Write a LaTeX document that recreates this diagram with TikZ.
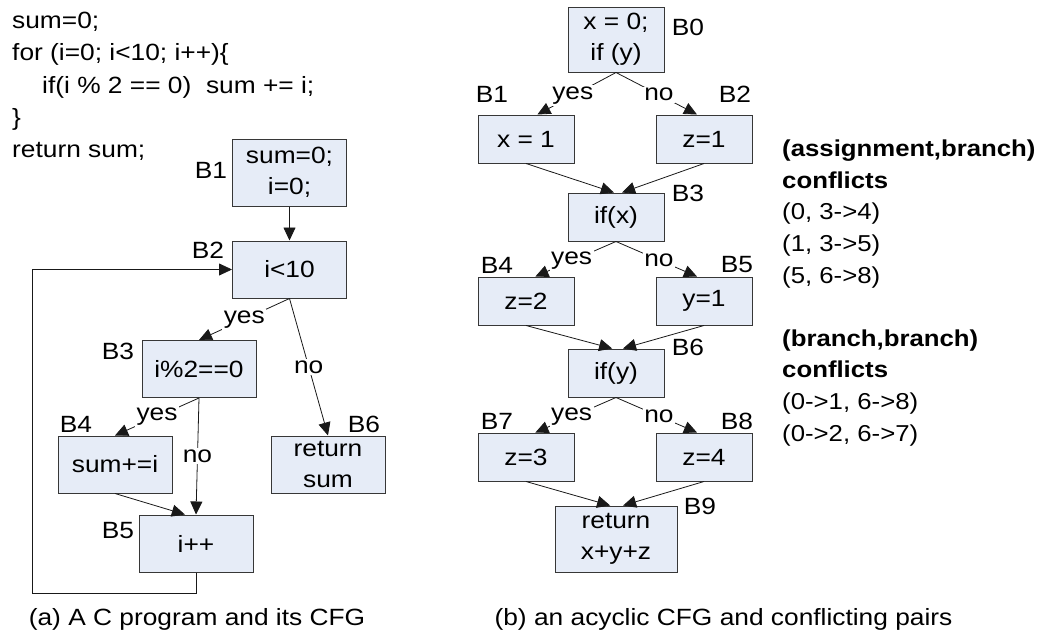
\documentclass[tikz,border=0pt]{standalone}
\usepackage{fontspec}
\setmainfont{Liberation Sans}[FakeStretch=1.12, BoldFeatures={FakeStretch=1.12}]
\usetikzlibrary{arrows.meta}
\definecolor{blkfill}{RGB}{230,236,247}
\definecolor{blkdraw}{RGB}{55,55,55}
\definecolor{edgecol}{RGB}{25,25,25}

\begin{document}
\begin{tikzpicture}[x=1pt,y=-1pt,
  every node/.style={font=\fontsize{23.5}{31}\selectfont, inner sep=0pt},
  blk/.style={draw=blkdraw, fill=blkfill, line width=1pt, align=center},
  lblk/.style={blk, minimum width=114pt, minimum height=57pt},
  rblk/.style={blk, minimum width=96pt, minimum height=48pt},
  cond/.style={fill=white, inner sep=1.5pt},
  flow/.style={draw=edgecol, line width=0.8pt, -{Triangle[length=13pt,width=12pt]}},
  codeline/.style={anchor=base west},
  listline/.style={anchor=base west, font=\fontsize{23}{30}\selectfont},
  listhead/.style={listline, font=\fontsize{23}{30}\selectfont\bfseries},
]
\fill[white] (0,0) rectangle (1047,637);
\useasboundingbox (0,0) rectangle (1047,637);

% ---------- (a) source program ----------
\node[codeline] (c1) at (12,28)    {sum=0;};
\node[codeline] (c2) at (12,60.5)  {for (i=0; i<10; i++)\{};
\node[codeline] (c3) at (42,93)    {if(i \% 2 == 0)\ \ sum += i;};
\node[codeline] (c4) at (12,125)   {\}};
\node[codeline] (c5) at (12,157)   {return sum;};

% ---------- (a) its CFG ----------
\node[lblk, minimum height=67pt] (LB1) at (289.5,172.5) {sum=0;\\i=0;};
\node[lblk] (LB2) at (289.5,269.5) {i<10};
\node[lblk] (LB3) at (199,369)     {i\%2==0};
\node[lblk] (LB4) at (115,464.5)   {sum+=i};
\node[lblk] (LB5) at (196,543.5)   {i++};
\node[lblk] (LB6) at (328,464.5)   {return\\sum};

\node (tLB1) at (211,170) {B1};
\node (tLB2) at (208,250) {B2};
\node (tLB3) at (118,351) {B3};
\node (tLB4) at (76,424)  {B4};
\node (tLB5) at (118,531) {B5};
\node (tLB6) at (364,424) {B6};

\draw[flow] (LB1.south) -- (LB2.north);
\draw[flow] (LB2.south) -- node[cond] {yes} (LB3.north);
\draw[flow] (LB2.south) -- node[cond] {no} (LB6.north);
\draw[flow] (LB3.south) -- node[cond] {yes} (LB4.north);
\draw[flow] (LB3.south) -- node[cond] {no} (LB5.north);
\draw[flow] (LB4.south) -- (LB5.111);
\coordinate (loopcorner) at (32,593);
\draw[flow] (LB5.south) |- (loopcorner) |- (LB2.west);

\node[anchor=base] (capa) at (197,625) {(a) A C program and its CFG};

% ---------- (b) acyclic CFG ----------
\node[rblk, minimum height=65pt] (RB0) at (616,39.5) {x = 0;\\if (y)};
\node[rblk] (RB1) at (526,139) {x = 1};
\node[rblk] (RB2) at (704,139) {z=1};
\node[rblk] (RB3) at (616,217) {if(x)};
\node[rblk] (RB4) at (526,301) {z=2};
\node[rblk] (RB5) at (704,301) {y=1};
\node[rblk] (RB6) at (616,373) {if(y)};
\node[rblk] (RB7) at (526,457) {z=3};
\node[rblk] (RB8) at (704,457) {z=4};
\node[rblk, minimum width=122pt, minimum height=66pt] (RB9) at (616,539) {return\\x+y+z};

\node (tRB0) at (688,27)  {B0};
\node (tRB1) at (492,94)  {B1};
\node (tRB2) at (735,94)  {B2};
\node (tRB3) at (688,193) {B3};
\node (tRB4) at (497,265) {B4};
\node (tRB5) at (737,265) {B5};
\node (tRB6) at (688,347) {B6};
\node (tRB7) at (497,421) {B7};
\node (tRB8) at (737,421) {B8};
\node (tRB9) at (700,506) {B9};

\draw[flow] (RB0.south) -- node[cond, pos=0.55] {yes} (RB1.65);
\draw[flow] (RB0.south) -- node[cond, pos=0.53] {no} (RB2.106);
\draw[flow] (RB1.south) -- (RB3.95);
\draw[flow] (RB2.south) -- (RB3.76);
\draw[flow] (RB3.south) -- node[cond, pos=0.55] {yes} (RB4.69);
\draw[flow] (RB3.south) -- node[cond, pos=0.53] {no} (RB5.106);
\draw[flow] (RB4.south) -- (RB6.99);
\draw[flow] (RB5.south) -- (RB6.74);
\draw[flow] (RB6.south) -- node[cond, pos=0.55] {yes} (RB7.69);
\draw[flow] (RB6.south) -- node[cond, pos=0.53] {no} (RB8.106);
\draw[flow] (RB7.south) -- (RB9.100);
\draw[flow] (RB8.south) -- (RB9.78);

% ---------- conflicting pairs ----------
\node[listhead] (h1) at (782,156.7) {(assignment,branch)};
\node[listhead] (h2) at (782,188.3) {conflicts};
\node[listline] (p1) at (782,219.9) {(0, 3->4)};
\node[listline] (p2) at (782,251.5) {(1, 3->5)};
\node[listline] (p3) at (782,283.1) {(5, 6->8)};
\node[listhead] (h3) at (782,346.3) {(branch,branch)};
\node[listhead] (h4) at (782,377.9) {conflicts};
\node[listline] (q1) at (782,409.5) {(0->1, 6->8)};
\node[listline] (q2) at (782,441.1) {(0->2, 6->7)};

\node[anchor=base] (capb) at (723.5,625) {(b) an acyclic CFG and conflicting pairs};
\end{tikzpicture}
\end{document}
